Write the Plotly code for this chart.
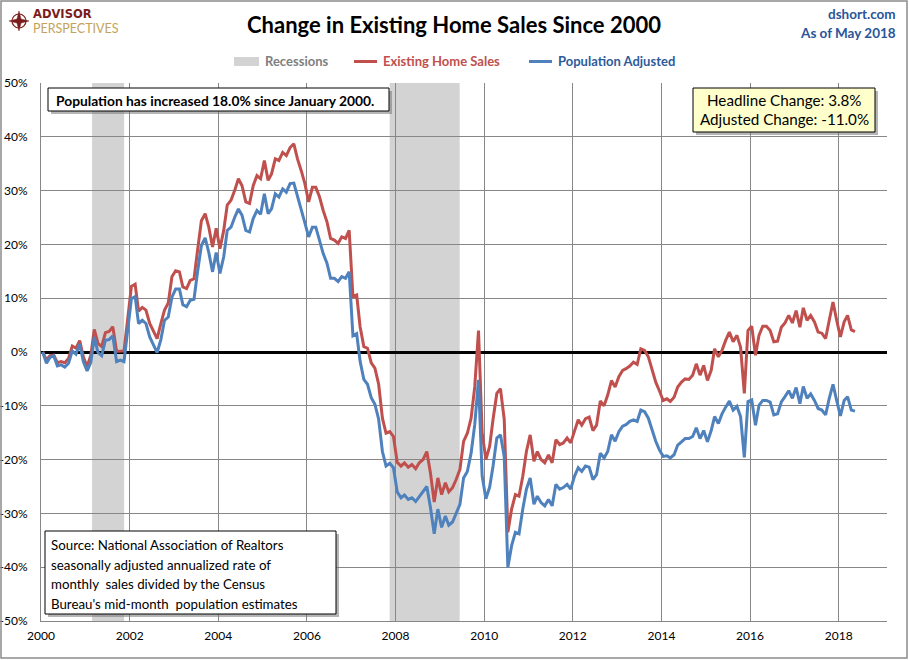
import plotly.graph_objects as go

# ---------------- data ----------------
start_year = 2000
existing_home_sales = [
    0.0, -1.5, -0.7, -0.6, -2.0, -1.8, -2.0, -1.2, 1.1, 0.7, 2.1, -0.9,          # 2000
    -2.7, -0.6, 4.2, 1.6, 1.0, 3.6, 3.8, 4.7, 0.1, 0.2, 0.2, 6.0,                # 2001
    12.2, 12.6, 7.6, 8.3, 7.8, 5.3, 3.8, 2.5, 5.3, 7.8, 9.1, 14.0,               # 2002
    15.1, 14.9, 12.1, 11.8, 13.3, 13.6, 19.0, 24.4, 25.7, 23.2, 19.5, 23.0,      # 2003
    19.2, 22.6, 27.3, 28.2, 30.0, 32.2, 30.9, 27.9, 27.6, 30.9, 32.8, 32.2,      # 2004
    35.6, 31.9, 33.1, 35.9, 35.6, 37.1, 36.5, 38.0, 38.7, 35.9, 33.7, 31.3,      # 2005
    27.9, 30.6, 30.6, 28.8, 26.3, 24.2, 21.1, 20.8, 20.2, 21.4, 21.1, 22.6,      # 2006
    10.3, 10.6, 4.7, 1.0, 0.7, -2.0, -3.0, -6.0, -12.3, -15.1, -14.8, -15.7,     # 2007
    -20.5, -21.2, -20.6, -21.4, -20.9, -21.7, -20.6, -20.0, -18.5, -22.5, -27.9, -23.4,  # 2008
    -26.5, -24.3, -26.0, -25.2, -23.7, -21.8, -16.6, -15.1, -12.3, -6.5, 4.0, -15.0,     # 2009
    -20.0, -17.5, -12.5, -7.7, -6.8, -12.5, -33.5, -29.2, -26.5, -26.8, -23.1, -18.5,    # 2010
    -15.4, -20.3, -18.5, -20.0, -20.6, -19.1, -20.6, -16.3, -17.2, -16.9, -16.0, -16.9,  # 2011
    -14.7, -12.6, -13.6, -12.4, -12.1, -14.6, -13.6, -9.1, -10.0, -8.0, -5.3, -6.5,      # 2012
    -4.6, -3.4, -3.1, -2.6, -1.9, -2.3, 0.6, 0.3, -0.9, -3.3, -5.6, -7.2,                # 2013
    -9.0, -8.7, -9.2, -8.4, -6.5, -5.6, -5.0, -5.1, -4.3, -2.2, -4.3, -2.5,              # 2014
    -5.3, -3.4, 0.6, -0.9, 0.3, 2.2, 3.7, 1.9, 3.1, 0.9, -7.7, 4.0,                      # 2015
    4.8, -0.6, 3.1, 4.8, 4.8, 4.0, 1.9, 2.0, 4.6, 5.4, 6.8, 5.4,                         # 2016
    7.7, 4.6, 8.2, 5.9, 6.8, 5.6, 3.7, 3.5, 2.5, 5.9, 9.3, 5.9,                          # 2017
    2.8, 5.6, 6.8, 4.1, 3.8,                                                             # 2018
]
population_adjusted = [
    0.0, -2.1, -1.0, -0.7, -2.6, -2.4, -2.8, -2.1, 0.2, -0.4, 1.5, -1.8,
    -3.5, -1.9, 2.8, -0.1, -0.7, 2.2, 2.3, 3.0, -1.8, -1.5, -1.8, 4.0,
    9.9, 10.3, 5.3, 5.9, 5.3, 2.8, 1.3, -0.1, 2.3, 5.9, 6.5, 10.2,
    11.7, 11.7, 8.8, 8.4, 9.6, 9.8, 15.0, 19.8, 21.2, 18.5, 14.9, 18.5,
    14.6, 17.7, 22.6, 23.2, 25.0, 26.6, 25.4, 22.6, 22.3, 24.8, 26.3, 25.6,
    29.4, 25.7, 26.6, 29.4, 28.8, 30.3, 29.7, 31.3, 31.4, 29.1, 26.6, 24.0,
    21.4, 23.2, 23.2, 20.5, 18.3, 16.5, 13.7, 13.7, 13.1, 14.0, 13.7, 14.9,
    3.0, 3.4, -1.7, -5.1, -6.0, -8.5, -9.7, -12.5, -18.5, -21.2, -20.7, -21.5,
    -26.0, -27.1, -26.6, -27.4, -27.1, -27.8, -26.9, -26.0, -25.0, -28.9, -33.8, -29.2,
    -32.6, -30.5, -32.2, -31.6, -29.8, -28.3, -23.4, -22.2, -18.8, -13.5, -5.2, -23.0,
    -27.3, -25.1, -21.2, -16.0, -15.4, -19.4, -40.0, -36.0, -33.5, -33.8, -29.2, -25.5,
    -23.4, -28.3, -26.8, -28.0, -28.6, -27.4, -28.6, -24.6, -25.5, -25.2, -24.6, -25.5,
    -23.1, -21.5, -22.2, -21.2, -21.4, -23.7, -22.8, -18.8, -19.7, -18.5, -15.4, -16.6,
    -14.8, -13.8, -13.5, -12.9, -12.6, -12.9, -10.8, -11.1, -12.3, -14.5, -16.6, -18.2,
    -19.4, -19.3, -19.7, -19.1, -17.3, -16.7, -16.1, -16.1, -15.7, -14.1, -16.1, -14.6,
    -16.7, -14.6, -12.0, -13.3, -11.5, -10.2, -9.1, -10.8, -10.1, -12.0, -19.6, -9.2,
    -8.9, -13.6, -9.9, -9.0, -9.0, -9.3, -11.7, -11.5, -9.3, -8.3, -7.2, -8.6,
    -6.6, -9.6, -6.4, -8.6, -7.8, -9.0, -10.5, -10.8, -11.7, -8.6, -6.0, -9.0,
    -11.9, -9.0, -8.3, -10.8, -11.0,
]
months = [f"{start_year + i // 12}-{i % 12 + 1:02d}-15" for i in range(len(existing_home_sales))]

recessions = [("2001-02-25", "2001-11-16"), ("2007-11-14", "2009-06-13")]

title_text = "Change in Existing Home Sales Since 2000"
pop_note = "Population has increased 18.0% since January 2000."
change_lines = ["Headline Change: 3.8%", "Adjusted Change: -11.0%"]
source_lines = [
    "Source: National Association of Realtors",
    "seasonally adjusted annualized rate of",
    "monthly  sales divided by the Census",
    "Bureau's mid-month  population estimates",
]
y_ticks = [50, 40, 30, 20, 10, 0, -10, -20, -30, -40, -50]

# ---------------- layout helpers ----------------
W, H = 909, 660
L, R, T, B = 41, 887, 83, 621
FONT = "Lato, 'Open Sans', sans-serif"
RED = "#C0504D"
BLUE = "#4F81BD"
GRID = "#878787"


def px(x):
    return (x - L) / (R - L)


def py(y):
    return (B - y) / (B - T)


fig = go.Figure()

fig.add_trace(go.Scatter(x=months, y=existing_home_sales, mode="lines",
                         line=dict(color=RED, width=3), name="Existing Home Sales",
                         showlegend=False))
fig.add_trace(go.Scatter(x=months, y=population_adjusted, mode="lines",
                         line=dict(color=BLUE, width=3), name="Population Adjusted",
                         showlegend=False))

shapes = []
for a, b in recessions:
    shapes.append(dict(type="rect", xref="x", yref="paper", x0=a, x1=b, y0=0, y1=1,
                       fillcolor="#D3D3D3", line=dict(width=0), layer="below"))

# outer chart border
shapes.append(dict(type="rect", xref="paper", yref="paper", x0=px(1), x1=px(907),
                   y0=py(658), y1=py(1), line=dict(color="#8C8C8C", width=1.5),
                   fillcolor="rgba(0,0,0,0)", layer="above"))


def box(x0, y0, x1, y1, fill):
    # shadow
    shapes.append(dict(type="rect", xref="paper", yref="paper", x0=px(x0 + 3), x1=px(x1 + 3),
                       y0=py(y1 + 3), y1=py(y0 + 3), fillcolor="rgba(120,120,120,0.55)",
                       line=dict(width=0), layer="above"))
    shapes.append(dict(type="rect", xref="paper", yref="paper", x0=px(x0), x1=px(x1),
                       y0=py(y1), y1=py(y0), fillcolor=fill,
                       line=dict(color="black", width=1), layer="above"))


box(48, 88, 389, 111, "white")
box(693, 88, 875, 132, "#FFFFCC")
box(45, 531, 336, 614, "white")

# legend glyphs
shapes.append(dict(type="rect", xref="paper", yref="paper", x0=px(234), x1=px(259),
                   y0=py(66), y1=py(57), fillcolor="#D3D3D3", line=dict(width=0)))
shapes.append(dict(type="line", xref="paper", yref="paper", x0=px(354), x1=px(377),
                   y0=py(61.5), y1=py(61.5), line=dict(color=RED, width=3)))
shapes.append(dict(type="line", xref="paper", yref="paper", x0=px(529), x1=px(552),
                   y0=py(61.5), y1=py(61.5), line=dict(color=BLUE, width=3)))

# logo: circle + compass star
cx, cy = 19, 21
shapes.append(dict(type="circle", xref="paper", yref="paper", x0=px(cx - 7), x1=px(cx + 7),
                   y0=py(cy + 7), y1=py(cy - 7), line=dict(color="#7B1C1C", width=1.2)))
pts = []
for (dx, dy) in [(0, -10), (2, -2), (10, 0), (2, 2), (0, 10), (-2, 2), (-10, 0), (-2, -2)]:
    pts.append((px(cx + dx), py(cy + dy)))
path = "M " + " L ".join(f"{x:.5f},{y:.5f}" for x, y in pts) + " Z"
shapes.append(dict(type="path", xref="paper", yref="paper", path=path,
                   fillcolor="#7B1C1C", line=dict(color="#7B1C1C", width=0.5)))

ann = []


def text(x, y, s, size=13, color="black", bold=False, xanchor="left", family=FONT):
    ann.append(dict(xref="paper", yref="paper", x=px(x), y=py(y), text=(f"<b>{s}</b>" if bold else s),
                    showarrow=False, xanchor=xanchor, yanchor="middle",
                    font=dict(family=family, size=size, color=color)))


text(454, 25, title_text, size=22, bold=True, xanchor="center")
text(898, 14, "dshort.com", size=13.5, color="#2A5599", bold=True, xanchor="right")
text(898, 33, "As of May 2018", size=13.5, color="#2A5599", bold=True, xanchor="right")
text(31, 14.3, "ADVISOR", size=11.5, color="#7B1C1C", bold=True, family="'DejaVu Sans', sans-serif")
text(31, 28.6, "PERSPECTIVES", size=12.5, color="#C3A35B")

text(263, 61.5, "Recessions", size=13, color="#808080", bold=True)
text(381, 61.5, "Existing Home Sales", size=13, color=RED, bold=True)
text(556, 61.5, "Population Adjusted", size=13, color="#2E5C9A", bold=True)

text(54, 100, pop_note, size=13.8, bold=True)
text(784, 100, change_lines[0], size=15.2, xanchor="center")
text(784, 119, change_lines[1], size=15.2, xanchor="center")
for i, line in enumerate(source_lines):
    text(49, 545 + i * 19.5, line, size=13.3)

fig.update_layout(
    width=W, height=H,
    margin=dict(l=L, r=W - R, t=T, b=H - B, autoexpand=False),
    paper_bgcolor="white", plot_bgcolor="white",
    shapes=shapes, annotations=ann,
    showlegend=False,
    font=dict(family=FONT, size=12, color="black"),
    xaxis=dict(type="date", range=["2000-01-01", "2019-02-03"], dtick="M24", tick0="2000-01-01",
               tickformat="%Y", showgrid=True, gridcolor=GRID, gridwidth=1,
               showline=True, linecolor=GRID, linewidth=1, ticks="", zeroline=False,
               automargin=False,
               tickfont=dict(family=FONT, size=12), ticklabelstandoff=4),
    yaxis=dict(range=[-50, 50], tickvals=y_ticks, ticktext=[f"{v}%" for v in y_ticks],
               showgrid=True, gridcolor=GRID, gridwidth=1,
               showline=True, linecolor=GRID, linewidth=1, ticks="",
               zeroline=True, zerolinecolor="black", zerolinewidth=2.5,
               automargin=False,
               tickfont=dict(family=FONT, size=12), ticklabelstandoff=10),
)

fig.write_html("out.html", config={"displayModeBar": False},
               post_script="document.body.style.margin='0';document.body.style.overflow='hidden';")
